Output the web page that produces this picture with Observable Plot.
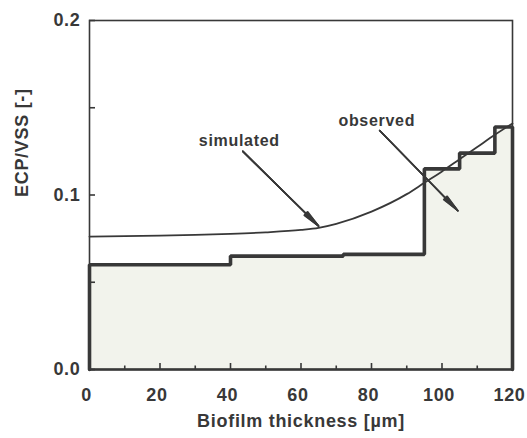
<!DOCTYPE html>
<html>
<head>
<meta charset="utf-8">
<script src="https://cdn.jsdelivr.net/npm/d3@7"></script>
<script src="https://cdn.jsdelivr.net/npm/@observablehq/plot@0.6"></script>
<style>
  html, body { margin: 0; padding: 0; background: #fff; }
  #chart svg { display: block; }
</style>
</head>
<body>
<div id="chart"></div>
<script>
// Observed ECP/VSS profile (stepwise, per biofilm layer)
const observedX = [0, 40, 72, 95, 105, 115, 120];
const observedY = [0.060, 0.065, 0.066, 0.115, 0.124, 0.139, 0.139];

// Simulated ECP/VSS profile
const simulatedX = [0, 10, 20, 30, 40, 50, 60, 65, 70, 80, 90, 95, 100, 105, 110, 115, 120];
const simulatedY = [0.0762, 0.0764, 0.0767, 0.0771, 0.0777, 0.0786, 0.0800, 0.0812, 0.0835, 0.0905, 0.1005, 0.1070, 0.1135, 0.1205, 0.1275, 0.1345, 0.1410];

// Annotation labels and arrows
const noteLabels = ["simulated", "observed"];
const noteTextX = [42.5, 81.5];
const noteTextY = [0.1310, 0.1427];
const arrowFromX = [43.5, 82.3];
const arrowFromY = [0.1250, 0.1370];
const arrowToX = [65, 104.5];
const arrowToY = [0.0822, 0.0910];

// Axis ticks
const xTickLabels = [0, 20, 40, 60, 80, 100, 120];
const xMinorTicks = [10, 30, 50, 70, 90, 110];
const yTickLabels = [0, 0.1, 0.2];
const yMinorTicks = [0.05, 0.15];

const W = 527, H = 438;
const mL = 89, mR = 15, mT = 20, mB = 69;
const frameW = W - mL - mR, frameH = H - mT - mB;
const ink = "#383838";

const observed = observedX.map((x, i) => ({x, y: observedY[i]}));
// outline: up the left edge, across the steps, down the right edge
const outline = [{x: observedX[0], y: 0}, ...observed, {x: observedX[observedX.length - 1], y: 0}];
const simulated = simulatedX.map((x, i) => ({x, y: simulatedY[i]}));
const notes = noteLabels.map((t, i) => ({
  t, tx: noteTextX[i], ty: noteTextY[i],
  x1: arrowFromX[i], y1: arrowFromY[i], x2: arrowToX[i], y2: arrowToY[i]
}));

// layered heads give a solid arrowhead
const arrowHeads = [4, 8, 12, 16].map(a => Plot.arrow(notes, {
  x1: "x1", y1: "y1", x2: "x2", y2: "y2",
  stroke: ink, strokeWidth: 1.5, headLength: 18, headAngle: a, insetEnd: 0
}));

const chart = Plot.plot({
  width: W,
  height: H,
  marginLeft: mL,
  marginRight: mR,
  marginTop: mT,
  marginBottom: mB,
  style: {
    fontFamily: "'Liberation Sans', Arial, sans-serif",
    fontWeight: "bold",
    background: "#fff",
    color: ink
  },
  x: {domain: [0, 120]},
  y: {domain: [0, 0.2]},
  marks: [
    Plot.areaY(observed, {x: "x", y: "y", curve: "step-after", fill: "#f2f3ec"}),
    Plot.frame({stroke: ink, strokeWidth: 1.6}),
    Plot.ruleY([0], {stroke: ink, strokeWidth: 2.6}),
    // inward tick marks
    Plot.tickX(xTickLabels, {x: d => d, stroke: ink, strokeWidth: 1.6, insetTop: frameH - 6}),
    Plot.tickX(xMinorTicks, {x: d => d, stroke: ink, strokeWidth: 1.6, insetTop: frameH - 3.5}),
    Plot.tickY(yTickLabels, {y: d => d, stroke: ink, strokeWidth: 1.6, insetRight: frameW - 6}),
    Plot.tickY(yMinorTicks, {y: d => d, stroke: ink, strokeWidth: 1.6, insetRight: frameW - 6}),
    Plot.axisX(xTickLabels, {
      tickSize: 0, tickPadding: 19, fontSize: 18, fill: ink, dx: -3,
      tickFormat: d => String(d), label: null
    }),
    Plot.axisY(yTickLabels, {
      tickSize: 0, tickPadding: 9, fontSize: 18, fill: ink,
      tickFormat: d3.format(".1f"), label: null
    }),
    Plot.text(["Biofilm thickness [\u00b5m]"], {
      frameAnchor: "bottom", dy: 57, fontSize: 18, fill: ink, text: d => d
    }),
    Plot.text(["ECP/VSS [-]"], {
      frameAnchor: "left", dx: -67, dy: 2, rotate: -90, fontSize: 18, fill: ink, text: d => d
    }),
    Plot.line(simulated, {x: "x", y: "y", curve: "monotone-x", stroke: ink, strokeWidth: 1.8}),
    Plot.line(outline, {x: "x", y: "y", curve: "step-after", stroke: ink, strokeWidth: 3.6, strokeLinejoin: "miter"}),
    ...arrowHeads,
    Plot.text(notes, {x: "tx", y: "ty", text: "t", fontSize: 16, fill: ink})
  ]
});

d3.select(chart).selectAll("text").style("letter-spacing", "0.7px");
document.getElementById("chart").append(chart);
</script>
</body>
</html>
